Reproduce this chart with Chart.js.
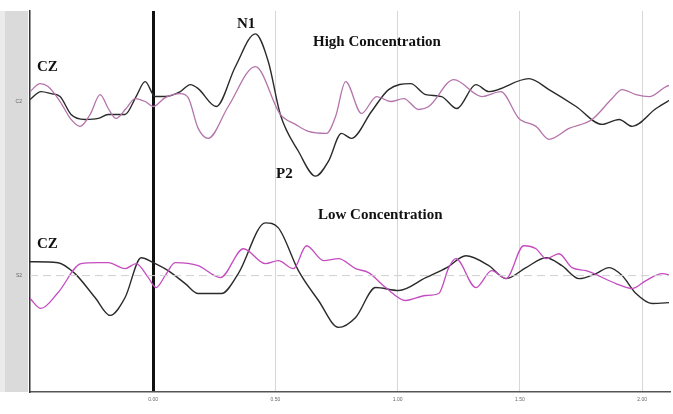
<!DOCTYPE html>
<html>
<head>
<meta charset="utf-8">
<script src="https://cdn.jsdelivr.net/npm/chart.js@4/dist/chart.umd.min.js"></script>
<style>
  html, body { margin: 0; padding: 0; background: #fff; }
  #wrap { width: 673px; height: 414px; }
</style>
</head>
<body>
<div id="wrap"><canvas id="erpChart" width="673" height="414"></canvas></div>
<script>
// time in seconds, amplitude in uV (positive up)
const timeTicks = [0, 0.5, 1, 1.5, 2];
const channelLabels = ["C2", "S2"];

const highBlackT = [-0.504, -0.459, -0.418, -0.381, -0.336, -0.279, -0.225, -0.184, -0.115, -0.070, -0.033, 0.008, 0.049, 0.111, 0.152, 0.184, 0.258, 0.336, 0.418, 0.471, 0.520, 0.594, 0.664, 0.717, 0.770, 0.811, 0.893, 0.963, 1.053, 1.115, 1.180, 1.242, 1.320, 1.373, 1.537, 1.619, 1.730, 1.836, 1.906, 1.959, 2.057, 2.123];
const highBlackV = [0.4, 2, 1.6, 1, -2.6, -3.6, -3.4, -2.6, -2.6, 1, 4, 1, 1, 2, 3.4, 2.6, -1, 7, 13.6, 8, -2.6, -10, -15, -12, -6.4, -7.4, -2, 2.4, 3.6, 1.4, 1, -1.4, 3.4, 2, 4.6, 2.4, -1, -4.6, -3.6, -5, -1.4, 0.6];

const highPinkT = [-0.504, -0.463, -0.430, -0.381, -0.336, -0.299, -0.258, -0.217, -0.184, -0.152, -0.111, -0.074, -0.033, 0, 0.049, 0.111, 0.143, 0.184, 0.225, 0.307, 0.418, 0.520, 0.582, 0.635, 0.709, 0.746, 0.787, 0.852, 0.914, 0.971, 1.025, 1.086, 1.127, 1.230, 1.344, 1.422, 1.496, 1.566, 1.619, 1.701, 1.795, 1.877, 1.918, 1.975, 2.029, 2.098, 2.123];
const highPinkV = [2, 3.6, 3, 0, -3.6, -5, -2.6, 1.4, -1.4, -3.4, -1.4, 0.6, 0, -1, 0.8, 1.6, 0.8, -5.4, -7.4, -1, 7, -2.6, -4.6, -6, -6.4, -3, 4, -2.4, 1, 0, 0.6, -1.6, -1, 4.4, 1, 2, -3.4, -5, -7.6, -5.4, -3.6, 0.6, 2.4, 1.4, 1, 3, 3.4];

const lowBlackT = [-0.504, -0.389, -0.320, -0.238, -0.176, -0.115, -0.049, 0, 0.061, 0.131, 0.184, 0.279, 0.348, 0.459, 0.512, 0.594, 0.676, 0.758, 0.828, 0.910, 1.004, 1.115, 1.201, 1.279, 1.373, 1.443, 1.525, 1.607, 1.672, 1.742, 1.811, 1.865, 1.918, 1.975, 2.041, 2.123];
const lowBlackV = [2.8, 2.6, 0.4, -4.4, -8, -4.4, 3.6, 2.6, 1, -1.6, -3.6, -3.6, 0.4, 10.6, 9.6, 1, -5, -10.4, -8.4, -2.4, -3, -0.4, 1.6, 4, 2, -0.6, 1.6, 3.6, 2, -0.6, 0.4, 1.6, 0, -3.6, -5.6, -5.4];

const lowPinkT = [-0.504, -0.459, -0.389, -0.295, -0.225, -0.184, -0.115, -0.070, -0.020, 0.012, 0.049, 0.090, 0.184, 0.275, 0.369, 0.459, 0.512, 0.574, 0.627, 0.697, 0.758, 0.828, 0.881, 0.951, 1.033, 1.115, 1.168, 1.209, 1.238, 1.320, 1.385, 1.443, 1.516, 1.566, 1.607, 1.660, 1.713, 1.770, 1.893, 1.959, 2.016, 2.082, 2.123];
const lowPinkV = [-4.6, -6.6, -3.4, 2.4, 2.6, 2.6, 1.4, 2.4, -0.4, -2.4, 0, 2.6, 2, -0.4, 5.4, 2.4, 3, 1.4, 6, 3, 3.4, 1.4, 0.6, -2.4, -5, -4, -3.6, 1.6, 3.4, -2.4, 1, -0.6, 6, 5.4, 3.4, 4.4, 1.6, 1, -1.6, -2.6, -1, 0.4, 0];

// vertical stacking of the two channels
const highOffset = -18.2;
const lowOffset = -53.2;
const tMin = -0.504, tMax = 2.11;

function pts(ts, vs, off) {
  return ts.map((t, i) => ({ x: t, y: vs[i] + off }));
}

const notes = [
  { text: "CZ", x: 37, y: 71 },
  { text: "N1", x: 237, y: 28 },
  { text: "P2", x: 276, y: 178 },
  { text: "High Concentration", x: 313, y: 46 },
  { text: "Low Concentration", x: 318, y: 219 },
  { text: "CZ", x: 37, y: 248 }
];

const sidePanel = {
  id: "sidePanel",
  beforeDraw(chart) {
    const { ctx, chartArea } = chart;
    ctx.save();
    ctx.fillStyle = "#dadada";
    ctx.fillRect(0, chartArea.top, chartArea.left - 2, chartArea.bottom - chartArea.top);
    ctx.fillStyle = "#ebebeb";
    ctx.fillRect(0, chartArea.top, 5, chartArea.bottom - chartArea.top);
    ctx.restore();
  },
  afterDraw(chart) {
    const { ctx } = chart;
    ctx.save();
    ctx.fillStyle = "#111";
    ctx.font = "bold 15px 'Liberation Serif', 'Times New Roman', serif";
    ctx.textBaseline = "alphabetic";
    notes.forEach(n => ctx.fillText(n.text, n.x, n.y));
    ctx.restore();
  }
};

const ctx = document.getElementById("erpChart");
new Chart(ctx, {
  type: "line",
  data: {
    datasets: [
      {
        label: "baseline",
        data: [{ x: tMin, y: lowOffset }, { x: tMax, y: lowOffset }],
        borderColor: "#cfcfcf",
        borderDash: [8, 5],
        borderWidth: 1,
        pointRadius: 0
      },
      {
        label: "High pink",
        data: pts(highPinkT, highPinkV, highOffset),
        borderColor: "#b474aa",
        borderWidth: 1.3,
        pointRadius: 0,
        cubicInterpolationMode: "monotone"
      },
      {
        label: "High black",
        data: pts(highBlackT, highBlackV, highOffset),
        borderColor: "#2a2a2a",
        borderWidth: 1.4,
        pointRadius: 0,
        cubicInterpolationMode: "monotone"
      },
      {
        label: "Low pink",
        data: pts(lowPinkT, lowPinkV, lowOffset),
        borderColor: "#c44cc0",
        borderWidth: 1.3,
        pointRadius: 0,
        cubicInterpolationMode: "monotone"
      },
      {
        label: "Low black",
        data: pts(lowBlackT, lowBlackV, lowOffset),
        borderColor: "#2a2a2a",
        borderWidth: 1.4,
        pointRadius: 0,
        cubicInterpolationMode: "monotone"
      }
    ]
  },
  options: {
    responsive: false,
    animation: false,
    layout: { padding: { top: 9, right: 4, bottom: 6, left: 0 } },
    plugins: { legend: { display: false }, tooltip: { enabled: false } },
    scales: {
      x: {
        type: "linear",
        min: tMin,
        max: tMax,
        afterBuildTicks: axis => { axis.ticks = timeTicks.map(v => ({ value: v })); },
        ticks: {
          callback: v => v.toFixed(2),
          font: { size: 5 },
          color: "#666",
          padding: 5,
          maxRotation: 0
        },
        grid: {
          color: c => (c.tick && c.tick.value === 0 ? "#111" : "#d6d6d6"),
          lineWidth: c => (c.tick && c.tick.value === 0 ? 3 : 1),
          drawTicks: false
        },
        border: { color: "#555", width: 1.5 }
      },
      y: {
        min: -76.6,
        max: 0,
        afterFit: axis => { axis.width = 30; },
        afterBuildTicks: axis => { axis.ticks = [highOffset, lowOffset].map(v => ({ value: v })); },
        ticks: {
          callback: (v, i) => channelLabels[i],
          font: { size: 5 },
          color: "#666",
          padding: 8,
          minRotation: 0,
          maxRotation: 0
        },
        grid: { display: false, drawTicks: false },
        border: { color: "#333", width: 1.5 }
      }
    }
  },
  plugins: [sidePanel]
});
</script>
</body>
</html>
